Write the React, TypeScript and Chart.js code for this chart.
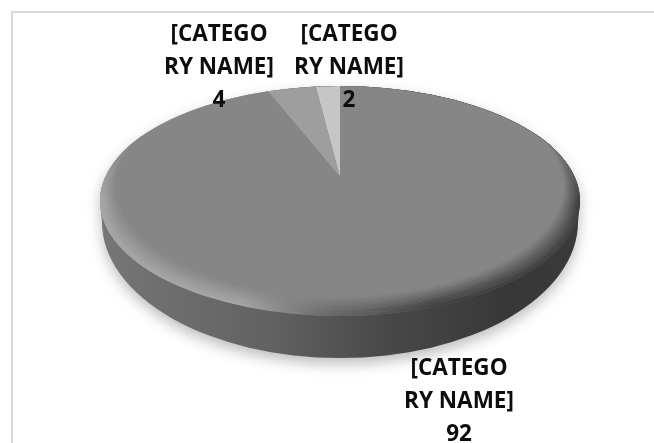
import { useEffect, useRef } from "react";
import { Chart, registerables } from "chart.js";

Chart.register(...registerables);

const categories = ["[CATEGORY NAME]", "[CATEGORY NAME]", "[CATEGORY NAME]"];
const labelLines = ["[CATEGO", "RY NAME]"];
const values = [92, 4, 2];
const sliceColors = ["#868686", "#9e9e9e", "#c6c6c6"];

const WIDTH = 654;
const HEIGHT = 443;
const TILT = 0.48;
const APEX = { x: 340, y: 177 };
const TOP = { x: 340, y: 201, rx: 240, ry: 115 };
const BASE = { x: 340, y: 222, rx: 238, ry: 136 };
const LABEL_CENTERS = [
  { x: 459, y: 369 },
  { x: 219, y: 35 },
  { x: 349, y: 35 },
];

type Oval = { x: number; y: number; rx: number; ry: number };

function ovalPath(ctx: CanvasRenderingContext2D, o: Oval) {
  ctx.beginPath();
  ctx.ellipse(o.x, o.y, o.rx, o.ry, 0, 0, Math.PI * 2);
}

// Outline of the pie's body: the lower rim joined to the widest part of the top face.
function bodyPath(ctx: CanvasRenderingContext2D) {
  ctx.beginPath();
  ctx.moveTo(TOP.x - TOP.rx, TOP.y);
  ctx.lineTo(BASE.x - BASE.rx, BASE.y);
  ctx.ellipse(BASE.x, BASE.y, BASE.rx, BASE.ry, 0, Math.PI, 0, true);
  ctx.lineTo(TOP.x + TOP.rx, TOP.y);
  ctx.ellipse(TOP.x, TOP.y, TOP.rx, TOP.ry, 0, 0, Math.PI, true);
  ctx.closePath();
}

// Soft bevel along the lower rim, faded out towards the back of the top face.
function drawBevel(target: CanvasRenderingContext2D) {
  const layer = document.createElement("canvas");
  layer.width = WIDTH;
  layer.height = HEIGHT;
  const ctx = layer.getContext("2d")!;
  ovalPath(ctx, TOP);
  ctx.clip();
  const rim = ctx.createLinearGradient(100, 0, 580, 0);
  rim.addColorStop(0, "rgb(172,172,172)");
  rim.addColorStop(0.3, "rgb(168,168,168)");
  rim.addColorStop(0.45, "rgb(110,110,110)");
  rim.addColorStop(0.7, "rgb(56,56,56)");
  rim.addColorStop(1, "rgb(54,54,54)");
  ctx.strokeStyle = rim;
  ctx.lineWidth = 1.8;
  const steps = 16;
  for (let i = steps - 1; i >= 0; i--) {
    const t = i / steps;
    ctx.globalAlpha = Math.pow(1 - t, 1.2) * 0.9;
    ovalPath(ctx, {
      x: TOP.x,
      y: TOP.y - 16 * t,
      rx: TOP.rx - 17 * t,
      ry: TOP.ry - 4 * t,
    });
    ctx.stroke();
  }
  ctx.globalAlpha = 1;
  ctx.globalCompositeOperation = "destination-in";
  const fade = ctx.createLinearGradient(0, 145, 0, 205);
  fade.addColorStop(0, "rgba(0,0,0,0)");
  fade.addColorStop(1, "rgba(0,0,0,1)");
  ctx.fillStyle = fade;
  ctx.fillRect(0, 0, WIDTH, HEIGHT);
  target.drawImage(layer, 0, 0);
}

const extrusion = {
  id: "extrusion",
  beforeDatasetsDraw(chart: Chart) {
    const { ctx } = chart;
    ctx.save();
    ctx.shadowColor = "rgba(0,0,0,0.26)";
    ctx.shadowBlur = 14;
    ctx.shadowOffsetY = 6;
    const wall = ctx.createLinearGradient(100, 0, 580, 0);
    wall.addColorStop(0, "#767676");
    wall.addColorStop(0.35, "#626262");
    wall.addColorStop(0.6, "#484848");
    wall.addColorStop(0.85, "#383838");
    wall.addColorStop(1, "#3a3a3a");
    ctx.fillStyle = wall;
    bodyPath(ctx);
    ctx.fill();
    ctx.restore();

    // The slices are tilted about the apex and trimmed by the top face outline.
    const arc: any = chart.getDatasetMeta(0).data[0];
    ctx.save();
    ovalPath(ctx, TOP);
    ctx.clip();
    ctx.translate(APEX.x, APEX.y);
    ctx.scale(1, TILT);
    ctx.translate(-arc.x, -arc.y);
  },
  afterDatasetsDraw(chart: Chart) {
    const { ctx } = chart;
    ctx.restore();
    drawBevel(ctx);

    // Value labels, centred on their anchors.
    const shown = chart.data.datasets[0].data as number[];
    ctx.save();
    ctx.fillStyle = "#0d0d0d";
    ctx.font = "bold 22.5px 'Open Sans'";
    ctx.textAlign = "center";
    ctx.textBaseline = "middle";
    LABEL_CENTERS.forEach((pos, i) => {
      [...labelLines, String(shown[i])].forEach((line, row) => {
        ctx.fillText(line, pos.x, pos.y + row * 33);
      });
    });
    ctx.restore();
  },
};

const frame = {
  id: "frame",
  beforeDraw(chart: Chart) {
    const { ctx } = chart;
    ctx.save();
    ctx.fillStyle = "#ffffff";
    ctx.fillRect(0, 0, WIDTH, HEIGHT);
    ctx.strokeStyle = "#d9d9d9";
    ctx.lineWidth = 2;
    ctx.strokeRect(12, 12, WIDTH + 20, HEIGHT + 20);
    ctx.restore();
  },
};

export default function App() {
  const ref = useRef<HTMLCanvasElement>(null);
  useEffect(() => {
    document.body.style.margin = "0";
    const chart = new Chart(ref.current!, {
      type: "pie",
      data: {
        labels: categories,
        datasets: [
          {
            data: values,
            backgroundColor: sliceColors,
            borderWidth: 0,
            radius: 320,
          },
        ],
      },
      options: {
        responsive: false,
        animation: false,
        plugins: { legend: { display: false }, tooltip: { enabled: false } },
      },
      plugins: [frame, extrusion],
    });
    return () => chart.destroy();
  }, []);
  return <canvas ref={ref} width={WIDTH} height={HEIGHT} style={{ display: "block" }} />;
}
